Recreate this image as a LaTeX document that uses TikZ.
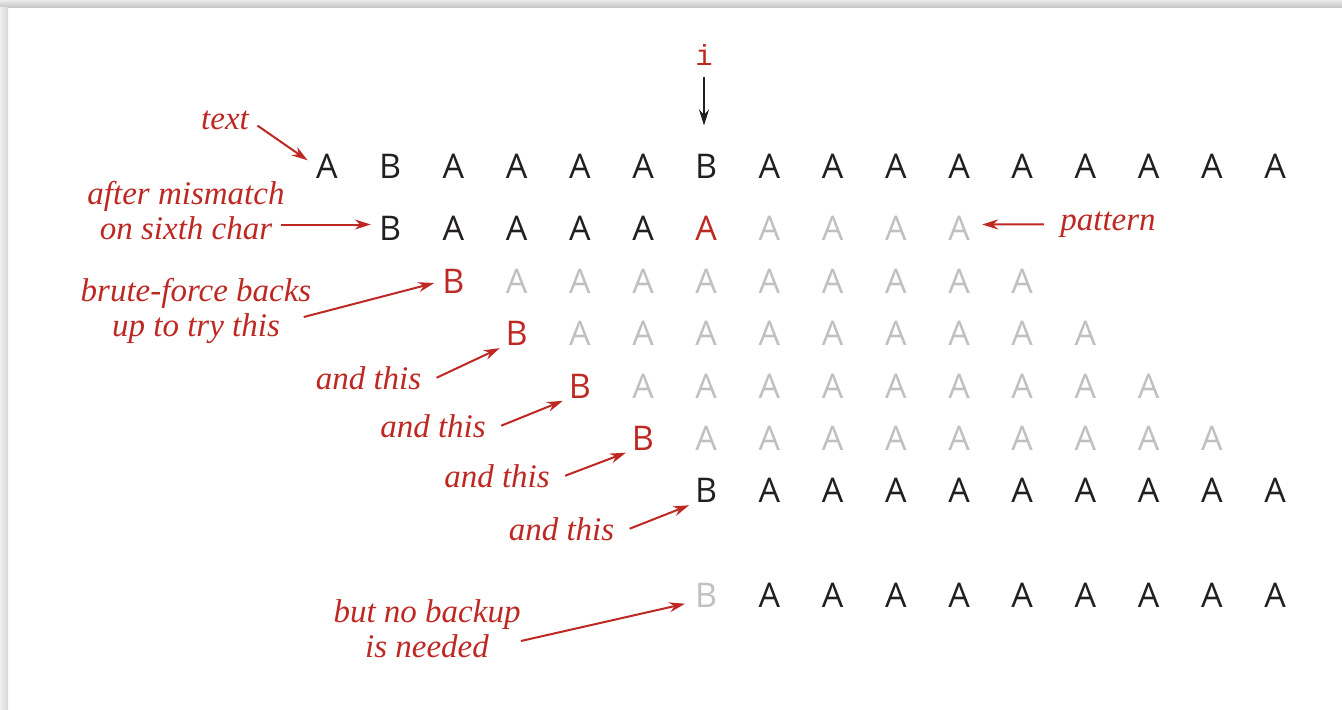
\documentclass[tikz,border=0pt]{standalone}
\usepackage{fontspec}
\usetikzlibrary{arrows.meta,calc}
\newfontfamily\lettfont{Open Sans}
\newfontfamily\notefont{Liberation Serif}
\newfontfamily\idxfont{Liberation Mono}
\definecolor{bookred}{RGB}{190,40,35}
\definecolor{ink}{RGB}{35,31,32}
\definecolor{faint}{RGB}{190,192,195}
\tikzset{
  chr/.style={inner sep=0pt,text=ink,font=\lettfont\fontsize{17pt}{20pt}\selectfont},
  hit/.style={chr,text=bookred},
  dim/.style={chr,text=faint},
  note/.style={inner sep=0pt,text=bookred,align=center,font=\notefont\itshape\fontsize{16.5pt}{17.5pt}\selectfont},
  arr/.style={draw=bookred,line width=1pt,-{Stealth[length=8pt,width=5pt]}},
  ptr/.style={draw=ink,line width=0.75pt,-{Stealth[length=8pt,width=5pt]}}
}
\begin{document}
\begin{tikzpicture}[x=0.5pt,y=-0.5pt]
\useasboundingbox (0,0) rectangle (1342,709);
\shade[top color=black!8,bottom color=black!22] (0,0) rectangle (1342,7);
\shade[left color=black!6,right color=black!16] (0,7) rectangle (8,709);
\foreach \ch [count=\k from 0] in {A,B,A,A,A,A,B,A,A,A,A,A,A,A,A,A}
  \node[chr] (t\k) at ({327+63.2*\k},166) {\ch};
\node[chr] (p1) at ({327+63.2},228.5) {B};
\foreach \k in {2,...,5}
  \node[chr] (p\k) at ({327+63.2*\k},228.5) {A};
\node[hit] (p6) at ({327+63.2*6},228.5) {A};
\foreach \k in {7,...,10}
  \node[dim] (p\k) at ({327+63.2*\k},228.5) {A};
\foreach \n/\y in {2/281,3/333,4/386,5/438}{
  \node[hit] (b\n) at ({327+63.2*\n},\y) {B};
  \foreach \k in {1,...,9}
    \node[dim] (g\n-\k) at ({327+63.2*(\n+\k)},\y) {A};
}
\node[chr] (b6) at ({327+63.2*6},490.5) {B};
\foreach \k in {7,...,15}
  \node[chr] (g6-\k) at ({327+63.2*\k},490.5) {A};
\node[dim] (b7) at ({327+63.2*6},595.5) {B};
\foreach \k in {7,...,15}
  \node[chr] (g7-\k) at ({327+63.2*\k},595.5) {A};
\node[inner sep=0pt,text=bookred,font=\idxfont\fontsize{14.5pt}{17pt}\selectfont,anchor=base] (idx) at (704,65) {i};
\draw[ptr,shorten <=6pt,shorten >=14pt] (idx.south) -- (idx.south |- t6.north);
\node[note,anchor=base] (lbltext) at (225,129) {text};
\node[note] (lblmis) at (186,211) {after mismatch\\on sixth char};
\node[note,anchor=base] (lblpat) at (1108,230) {pattern};
\node[note] (lblbf) at (196,311) {brute-force backs\\up to try this};
\foreach \n/\x/\y in {3/368.5/389,4/433/437,5/497/487,6/561.5/540}
  \node[note,anchor=base] (lbl\n) at (\x,\y) {and this};
\node[note] (lblno) at (427,629) {but no backup\\is needed};
\draw[arr,shorten <=5pt,shorten >=5pt] (lbltext.east) -- (t0.west);
\draw[arr,shorten >=4pt] ($(p1.west -| lblmis.east)+(-2pt,2pt)$) -- ([yshift=2pt]p1.west);
\draw[arr,shorten <=8pt,shorten >=6pt] (lblpat.west) -- ([yshift=2pt]p10.east);
\draw[arr,shorten >=4pt] ([xshift=-4pt,yshift=-3pt]lblbf.east) -- (b2.west);
\foreach \n in {3,...,6}
  \draw[arr,shorten >=3pt] ([xshift=7.5pt]lbl\n.east) -- (b\n.south west);
\draw[arr,shorten >=5pt] ([yshift=-6pt]lblno.east) -- ([yshift=-3pt]b7.west);
\end{tikzpicture}
\end{document}
